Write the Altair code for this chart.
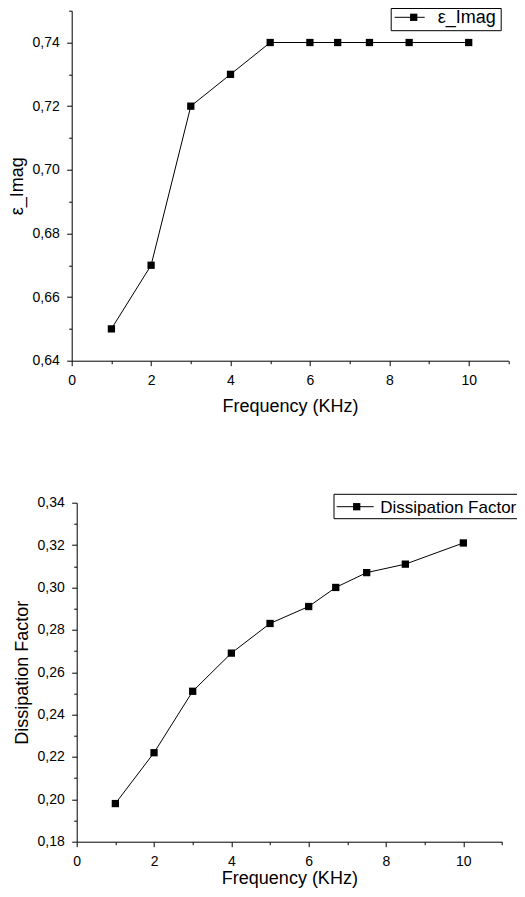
import altair as alt
import pandas as pd

# ---- data ----
freq = [1, 2, 3, 4, 5, 6, 6.7, 7.5, 8.5, 10]
eps_imag = [0.65, 0.67, 0.72, 0.73, 0.74, 0.74, 0.74, 0.74, 0.74, 0.74]
dissipation = [0.198, 0.222, 0.251, 0.269, 0.283, 0.291, 0.300, 0.307, 0.311, 0.321]

x_ticks = [0, 1, 2, 3, 4, 5, 6, 7, 8, 9, 10, 11]
top_y_ticks = [0.64, 0.65, 0.66, 0.67, 0.68, 0.69, 0.70, 0.71, 0.72, 0.73, 0.74, 0.75]
bot_y_ticks = [0.18, 0.19, 0.20, 0.21, 0.22, 0.23, 0.24, 0.25, 0.26, 0.27, 0.28,
               0.29, 0.30, 0.31, 0.32, 0.33, 0.34]

x_title = "Frequency (KHz)"
top_title = "ε_Imag"
bot_title = "Dissipation Factor"

FONT = "Liberation Sans"

# ---- layout (pixels inside the single plot group) ----
W, H = 437, 831
TOP_X_RANGE = [0, 436.7]
TOP_Y_RANGE = [350, 0]
BOT_X_RANGE = [5, 430.3]
BOT_Y_RANGE = [831, 492]

X_LABELS = "datum.value % 2 === 0 ? format(datum.value, 'd') : ''"
X_TICKSIZE = {"condition": {"test": "datum.value % 2 !== 0", "value": 3}, "value": 5}
Y_LABELS = "round(datum.value*100) % 2 === 0 ? replace(format(datum.value, '.2f'), '.', ',') : ''"
Y_TICKSIZE = {"condition": {"test": "round(datum.value*100) % 2 !== 0", "value": 3}, "value": 5}


def panel(values, xname, yname, ydom, yticks, ytitle, xrange, yrange, x_offset, y_offset, x_tp):
    df = pd.DataFrame({xname: freq, yname: values})
    base = alt.Chart(df).encode(
        x=alt.X(f"{xname}:Q",
                scale=alt.Scale(domain=[0, 11], range=xrange, nice=False, zero=False),
                axis=alt.Axis(orient="bottom", values=x_ticks, labelExpr=X_LABELS,
                              tickSize=X_TICKSIZE, title=x_title, titlePadding=x_tp,
                              offset=x_offset)),
        y=alt.Y(f"{yname}:Q",
                scale=alt.Scale(domain=ydom, range=yrange, nice=False, zero=False),
                axis=alt.Axis(orient="left", values=yticks, labelExpr=Y_LABELS,
                              tickSize=Y_TICKSIZE, title=ytitle, titlePadding=5,
                              offset=y_offset)),
    )
    ln = base.mark_line(color="black", strokeWidth=1)
    pts = base.mark_square(size=53, color="black", opacity=1, filled=True)
    return alt.layer(ln, pts)


def legend(label, box, line, text_y, fs):
    ldf = pd.DataFrame({"label": [label]})
    lb = alt.Chart(ldf)
    bx0, bx1, by0, by1 = box
    lx0, lx1, mx, ly, tx = line
    rect = lb.mark_rect(fill="white", stroke="black", strokeWidth=1).encode(
        x=alt.value(bx0), x2=alt.value(bx1), y=alt.value(by0), y2=alt.value(by1))
    rule_l = lb.mark_rule(color="black", strokeWidth=1).encode(
        x=alt.value(lx0), x2=alt.value(mx), y=alt.value(ly))
    rule_r = lb.mark_rule(color="black", strokeWidth=1).encode(
        x=alt.value(mx), x2=alt.value(lx1), y=alt.value(ly))
    sq = lb.mark_square(size=53, color="black", opacity=1, filled=True).encode(
        x=alt.value(mx), y=alt.value(ly))
    txt = lb.mark_text(align="left", baseline="alphabetic", fontSize=fs, font=FONT,
                       color="black").encode(
        x=alt.value(tx), y=alt.value(text_y), text="label:N")
    return [rect, rule_l, rule_r, sq, txt]


top = panel(eps_imag, "f_top", "eps", [0.64, 0.75], top_y_ticks, top_title,
            TOP_X_RANGE, TOP_Y_RANGE, x_offset=-(H - 350), y_offset=0, x_tp=10)
bottom = panel(dissipation, "f_bot", "diss", [0.18, 0.34], bot_y_ticks, bot_title,
               BOT_X_RANGE, BOT_Y_RANGE, x_offset=0, y_offset=-5, x_tp=1.5)

top_leg = legend(top_title, box=(319.5, 429.5, -2.2, 20), line=(323, 353, 342, 6.6, 366),
                 text_y=12.6, fs=18)
bot_leg = legend(bot_title, box=(262.3, 460, 483.6, 508), line=(265, 302, 285, 496, 308.5),
                 text_y=502.6, fs=17)

chart = alt.layer(top, bottom, *top_leg, *bot_leg).resolve_scale(
    x="independent", y="independent"
).properties(
    width=W, height=H,
    autosize=alt.AutoSizeParams(type="none"),
    padding={"left": 63.7, "top": 2.7, "right": 8.3, "bottom": 47.3},
).configure_view(stroke=None).configure_axis(
    domainColor="black", tickColor="black", labelColor="black", titleColor="black",
    domainWidth=1, tickWidth=1, grid=False, labelFont=FONT, titleFont=FONT,
    labelFontSize=14, titleFontSize=18, titleFontWeight="normal",
    labelPadding=7.5, labelOverlap=False, labelFlush=False,
)

chart.save("out.html", embed_options={"renderer": "svg", "actions": False})
